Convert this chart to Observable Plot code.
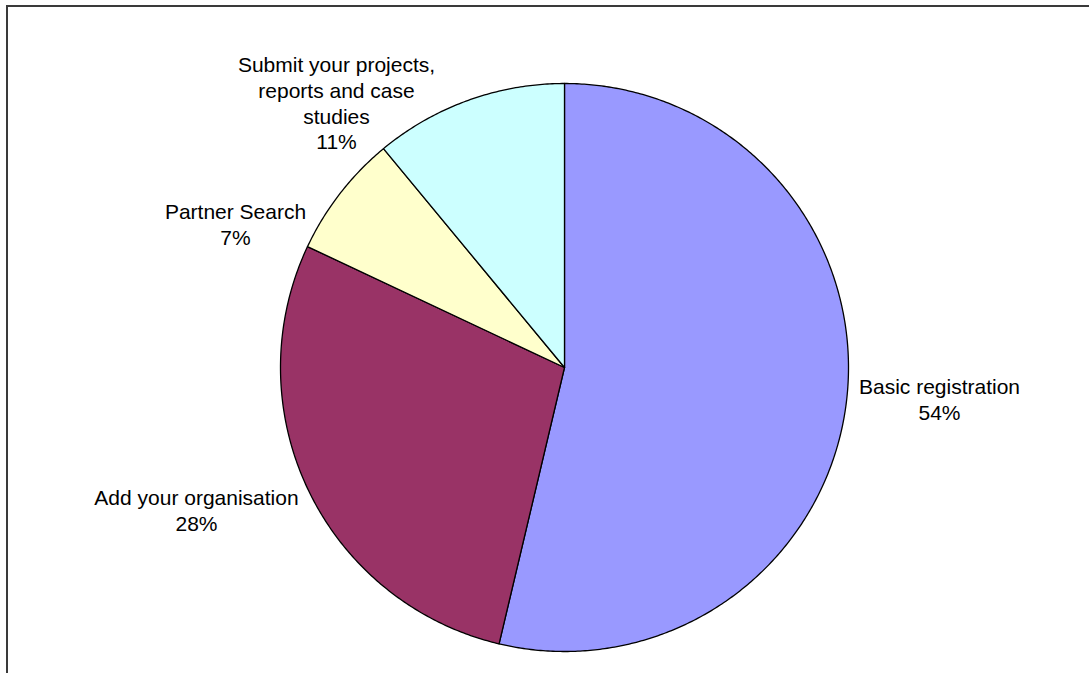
<!DOCTYPE html>
<html>
<head>
<meta charset="utf-8">
<script src="https://cdn.jsdelivr.net/npm/d3@7"></script>
<script src="https://cdn.jsdelivr.net/npm/@observablehq/plot@0.6"></script>
<style>
  html, body { margin: 0; padding: 0; background: #fff; overflow: hidden; }
  #wrap { position: relative; width: 1089px; height: 673px; }
  #frame { position: absolute; left: 6px; top: 5px; right: -10px; bottom: -10px;
           border-top: 2px solid #3a3a3a; border-left: 2px solid #3a3a3a; pointer-events: none; }
  #chart { position: absolute; left: 0; top: 0; }
</style>
</head>
<body>
<div id="wrap"><div id="chart"></div><div id="frame"></div></div>
<script>
// ---- data ----
const categories = ["Basic registration", "Add your organisation", "Partner Search", "Submit your projects, reports and case studies"];
const shares = [53.7, 28.3, 7.0, 11.0];           // percent of the whole
const percentLabels = ["54%", "28%", "7%", "11%"]; // labels as printed
const labelText = ["Basic registration", "Add your organisation", "Partner Search", "Submit your projects,\nreports and case\nstudies"];
const sliceColors = ["#9999FF", "#993366", "#FFFFCC", "#CCFFFF"];

// ---- layout (pixels) ----
const W = 1089, H = 673;
const cx = 564, cy = 367, R = 284;
const labelAnchorsPx = [[939, 398], [196, 509], [235, 223], [336, 102]];

// pie geometry, in units of the radius (angle clockwise from 12 o'clock)
const total = d3.sum(shares);
let acc = 0;
const slicePts = [];
categories.forEach((name, i) => {
  const a0 = acc / total * 2 * Math.PI;
  acc += shares[i];
  const a1 = acc / total * 2 * Math.PI;
  const n = Math.max(8, Math.ceil((a1 - a0) / (Math.PI / 360)));
  slicePts.push({name, x: 0, y: 0});
  for (let k = 0; k <= n; k++) {
    const a = a0 + (a1 - a0) * k / n;
    slicePts.push({name, x: Math.sin(a), y: Math.cos(a)});
  }
  slicePts.push({name, x: 0, y: 0});
});

const labels = categories.map((name, i) => ({
  name,
  text: labelText[i] + "\n" + percentLabels[i],
  x: (labelAnchorsPx[i][0] - cx) / R,
  y: (cy - labelAnchorsPx[i][1]) / R
}));

const chart = Plot.plot({
  width: W,
  height: H,
  margin: 0,
  style: {fontFamily: "'Liberation Sans', Arial, sans-serif", background: "transparent"},
  x: {axis: null, domain: [-cx / R, (W - cx) / R]},
  y: {axis: null, domain: [-(H - cy) / R, cy / R]},
  color: {domain: categories, range: sliceColors},
  marks: [
    Plot.line(slicePts, {x: "x", y: "y", z: "name", fill: "name", stroke: "#000", strokeWidth: 1.3, strokeLinejoin: "round"}),
    Plot.text(labels, {x: "x", y: "y", text: "text", fill: "#000", fontSize: 21, lineHeight: 1.22,
      textAnchor: "middle", lineAnchor: "middle"})
  ]
});
document.getElementById("chart").appendChild(chart);
</script>
</body>
</html>
